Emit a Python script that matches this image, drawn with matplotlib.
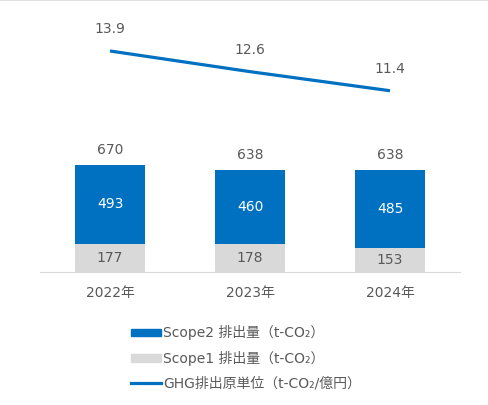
import numpy as np
import matplotlib.pyplot as plt
from matplotlib.patches import Patch
from matplotlib.lines import Line2D

plt.rcParams['font.family'] = ['DejaVu Sans', 'Noto Sans CJK JP']

years = ['2022年', '2023年', '2024年']
scope1 = [177, 178, 153]
scope2 = [493, 460, 485]
totals = [670, 638, 638]
intensity = [13.9, 12.6, 11.4]

blue = '#0070C0'
grey = '#D9D9D9'
txt = '#595959'

fig = plt.figure(figsize=(4.89, 4.05), dpi=100)
ax = fig.add_axes([40/489, 133/405, 420/489, 256/405])
x = np.arange(len(years))

ax.bar(x, scope1, width=0.5, color=grey)
ax.bar(x, scope2, width=0.5, bottom=scope1, color=blue)
ax.set_xlim(-0.5, 2.5)
ax.set_ylim(0, 1600)

for i in range(len(years)):
    ax.text(x[i], scope1[i] / 2, str(scope1[i]), ha='center', va='center',
            color=txt, fontsize=10)
    ax.text(x[i], scope1[i] + scope2[i] / 2, str(scope2[i]), ha='center',
            va='center', color='white', fontsize=10)
    ax.annotate(str(totals[i]), (x[i], totals[i]), xytext=(0, 11),
                textcoords='offset points', ha='center', va='center',
                color=txt, fontsize=10)

for s in ['top', 'right', 'left']:
    ax.spines[s].set_visible(False)
ax.spines['bottom'].set_color(grey)
ax.set_yticks([])
ax.set_xticks(x)
ax.set_xticklabels(years, color=txt, fontsize=10)
ax.tick_params(axis='x', length=0, pad=10)

ax2 = ax.twinx()
ax2.plot(x, intensity, color=blue, lw=2.3, solid_capstyle='butt')
ax2.set_ylim(0, 16.1)
ax2.set_yticks([])
for s in ax2.spines.values():
    s.set_visible(False)
for i in range(len(years)):
    ax2.annotate(f'{intensity[i]:.1f}', (x[i], intensity[i]), xytext=(0, 15.5),
                 textcoords='offset points', ha='center', va='center',
                 color=txt, fontsize=10)

handles = [Patch(color=blue), Patch(color=grey), Line2D([], [], color=blue, lw=2.3)]
labels = ['Scope2 排出量（t-CO₂）', 'Scope1 排出量（t-CO₂）', 'GHG排出原単位（t-CO₂/億円）']
fig.legend(handles, labels, loc='upper left', bbox_to_anchor=(119/489, 1 - 313/405),
           frameon=False, fontsize=10, handlelength=2.1, handleheight=0.45,
           handletextpad=0.2, labelspacing=0.75, labelcolor=txt)

fig.add_artist(Line2D([0, 1], [0.999, 0.999], color='#D9D9D9', lw=1.2,
                      transform=fig.transFigure))

fig.savefig('out.png', dpi=100)
